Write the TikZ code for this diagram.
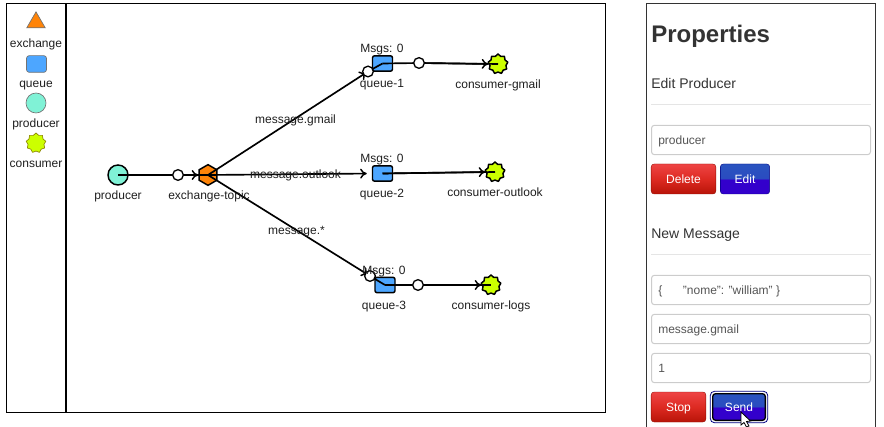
\documentclass[tikz,border=0pt]{standalone}
\usepackage{fontspec}
\setmainfont{Liberation Sans}
\usetikzlibrary{shapes.geometric,arrows.meta}
\definecolor{exorange}{HTML}{FF8408}
\definecolor{qblue}{HTML}{4DA6FF}
\definecolor{prodgreen}{HTML}{80F2D6}
\definecolor{conslime}{HTML}{CCFF00}
\definecolor{inkdark}{HTML}{333333}
\definecolor{inputgrey}{HTML}{555555}
\definecolor{inputline}{HTML}{CCCCCC}
\definecolor{redtop}{HTML}{EE4444}
\definecolor{redmid}{HTML}{DD2A22}
\definecolor{redbot}{HTML}{B81408}
\definecolor{bluetop}{HTML}{2A5CC0}
\definecolor{bluemid}{HTML}{2A4CC0}
\definecolor{bluebot}{HTML}{3300CC}
\pgfdeclareverticalshading{redbtn}{100bp}{color(0bp)=(redbot);color(25bp)=(redbot);color(50bp)=(redmid);color(75bp)=(redtop);color(100bp)=(redtop)}
\pgfdeclareverticalshading{bluebtn}{100bp}{color(0bp)=(bluebot);color(49bp)=(bluebot);color(51bp)=(bluemid);color(100bp)=(bluetop)}
\tikzset{
  x=0.75pt,y=-0.75pt,
  lbl/.style={font=\fontsize{9}{10}\selectfont,inner sep=0pt,text=black!88,text height=6.5pt,text depth=2pt,yshift=-1.1pt},
  elbl/.style={lbl},
  exnode/.style={regular polygon,regular polygon sides=6,shape border rotate=30,draw=black,line width=1.1pt,fill=exorange,minimum size=15.5pt,inner sep=0pt},
  qnode/.style={rectangle,rounded corners=1.5pt,draw=black,line width=1.1pt,fill=qblue,minimum width=15pt,minimum height=11.5pt,inner sep=0pt},
  pnode/.style={circle,draw=black,line width=1.1pt,fill=prodgreen,minimum size=15pt,inner sep=0pt},
  cnode/.style={star,star points=9,star point ratio=1.24,line join=round,draw=black,line width=1.1pt,fill=conslime,minimum size=15pt,inner sep=0pt},
  wp/.style={circle,draw=black,line width=1pt,fill=white,minimum size=8pt,inner sep=0pt},
  conn/.style={draw=black,line width=1.25pt},
  arr/.style={conn,-{To[length=5pt,width=7.5pt,line width=1.1pt]}},
  pal/.style={draw=black!55,line width=0.5pt},
  field/.style={rectangle,rounded corners=2.2pt,draw=inputline,line width=0.75pt,fill=white,minimum width=164.25pt,minimum height=22pt,inner sep=0pt},
  fieldtxt/.style={font=\fontsize{9}{10}\selectfont,text=inputgrey,inner sep=0pt,anchor=west,text height=6.5pt,text depth=2pt,yshift=-0.9pt},
  redb/.style={rectangle,rounded corners=2.2pt,shading=redbtn,draw=redbot!80!black,line width=0.3pt,minimum height=22.5pt,inner sep=0pt,text=white,font=\fontsize{9}{10}\selectfont,text height=6.5pt,text depth=0pt},
  blueb/.style={rectangle,rounded corners=2.2pt,shading=bluebtn,draw=blue!50!black,line width=0.3pt,minimum height=22.5pt,inner sep=0pt,text=white,font=\fontsize{9}{10}\selectfont,text height=6.5pt,text depth=0pt},
  head/.style={font=\fontsize{10.5}{12}\selectfont,text=inkdark,inner sep=0pt,anchor=west},
  hr/.style={draw=black!10,line width=0.75pt},
}
\begin{document}
\begin{tikzpicture}
\useasboundingbox (0,0) rectangle (884,427);
% canvas frames
\draw[black,line width=0.75pt] (6.5,3.5) rectangle (605.5,412.5);
\draw[black,line width=1.5pt] (66,3.5) -- (66,412.5);
% palette
\node[isosceles triangle,isosceles triangle apex angle=60,shape border rotate=90,pal,fill=exorange,minimum size=12pt,inner sep=0pt] (palex) at (36,22.5) {};
\node[lbl] (palexl) at (36,43) {exchange};
\node[rectangle,rounded corners=2pt,pal,fill=qblue,minimum width=15pt,minimum height=12.5pt,inner sep=0pt] (palq) at (36.5,64) {};
\node[lbl] (palql) at (36,83) {queue};
\node[circle,pal,fill=prodgreen,minimum size=15pt,inner sep=0pt] (palp) at (36,103) {};
\node[lbl] (palpl) at (36,123) {producer};
\node[star,star points=9,star point ratio=1.24,line join=round,pal,draw=olive,fill=conslime,minimum size=15pt,inner sep=0pt] (palc) at (36,143) {};
\node[lbl] (palcl) at (36,163) {consumer};
% main nodes
\node[pnode] (prod) at (118,175) {};
\node[exnode] (ex) at (208,175) {};
\node[qnode] (q1) at (382.5,63.5) {};
\node[qnode] (q2) at (382.5,173.5) {};
\node[qnode] (q3) at (385,285) {};
\node[cnode] (c1) at (498,64) {};
\node[cnode] (c2) at (495,172) {};
\node[cnode] (c3) at (491,285) {};
% waypoints
\coordinate (w0) at (178,175);
\coordinate (w1) at (368,71.5);
\coordinate (w1b) at (419,63);
\coordinate (w3) at (370,276);
\coordinate (w3b) at (418,285);
% connectors: each line runs to the node's centre, its arrowhead sits on the node's edge
\draw[conn] (prod.center) -- (w0);
\draw[conn] (w0) -- (ex.center);
\draw[arr] (w0) -- (ex.west);
\draw[arr,shorten >=1.5pt] (ex.center) -- (w1);
\draw[conn] (w1) -- (q1.center);
\draw[arr,shorten >=3.75pt] (ex.center) -- (q2.west);
\draw[arr,shorten >=1.5pt] (ex.center) -- (w3);
\draw[conn] (w3) -- (q3.center);
\draw[conn] (q1.center) -- (w1b);
\draw[conn] (w1b) -- (c1.center);
\draw[arr] (w1b) -- (c1.west);
\draw[conn] (q2.center) -- (c2.center);
\draw[arr] (q2.center) -- (c2.west);
\draw[conn] (q3.center) -- (w3b);
\draw[conn] (w3b) -- (c3.center);
\draw[arr] (w3b) -- (c3.west);
\node[wp] (w0n) at (w0) {};
\node[wp] (w1n) at (w1) {};
\node[wp] (w1bn) at (w1b) {};
\node[wp] (w3n) at (w3) {};
\node[wp] (w3bn) at (w3b) {};
% labels
\node[lbl] (lp) at (118,195) {producer};
\node[lbl] (lx) at (209,195) {exchange-topic};
\node[elbl] (e1) at (295.5,119) {message.gmail};
\node[elbl] (e2) at (295.5,174) {message.outlook};
\node[elbl] (e3) at (296.5,230) {message.*};
\node[lbl] (m1) at (382,48) {Msgs: 0};
\node[lbl] (m2) at (382,158) {Msgs: 0};
\node[lbl] (m3) at (384,270) {Msgs: 0};
\node[lbl] (l1) at (382,83) {queue-1};
\node[lbl] (l2) at (382,193) {queue-2};
\node[lbl] (l3) at (384,305) {queue-3};
\node[lbl] (lc1) at (498,84) {consumer-gmail};
\node[lbl] (lc2) at (495,192) {consumer-outlook};
\node[lbl] (lc3) at (491,305) {consumer-logs};
% properties panel
\draw[inkdark,line width=0.75pt] (646.5,427) -- (646.5,3.5) -- (875.5,3.5) -- (875.5,427);
\node[font=\bfseries\fontsize{18}{20}\selectfont,text=inkdark,inner sep=0pt,anchor=west] (title) at (651,36) {Properties};
\node[head] (h1) at (651,84) {Edit Producer};
\draw[hr] (651,104.5) -- (871,104.5);
\node[field] (f1) at (761,140) {};
\node[fieldtxt] (f1t) at (658,140) {producer};
\node[redb,minimum width=48.5pt] (bdel) at (683.5,179) {Delete};
\node[blueb,minimum width=37pt] (bedit) at (745,179) {Edit};
\node[head] (h2) at (651,235.5) {New Message};
\draw[hr] (651,254.5) -- (871,254.5);
\node[field] (f2) at (761,290) {};
\node[fieldtxt] (f2t) at (658,290) {\{\hspace{15.5pt}"nome": "william" \}};
\node[field] (f3) at (761,329) {};
\node[fieldtxt] (f3t) at (658,329) {message.gmail};
\node[field] (f4) at (761,368) {};
\node[fieldtxt] (f4t) at (658,368) {1};
\node[redb,minimum width=41pt] (bstop) at (678.5,407) {Stop};
\node[rectangle,rounded corners=3pt,draw=blue!50!black,fill=white,line width=0.6pt,minimum width=43pt,minimum height=23.5pt,inner sep=0pt] (bsendo) at (739,407) {};
\node[blueb,draw=black,line width=1pt,minimum width=39.5pt,minimum height=20pt] (bsend) at (739,407) {Send};
% mouse cursor
\draw[black,fill=white,line width=0.6pt,line join=miter] (741,412) -- (741,425) -- (744,422.5) -- (746.5,427) -- (749,426) -- (746.5,421.5) -- (750.5,421) -- cycle;
\end{tikzpicture}
\end{document}
